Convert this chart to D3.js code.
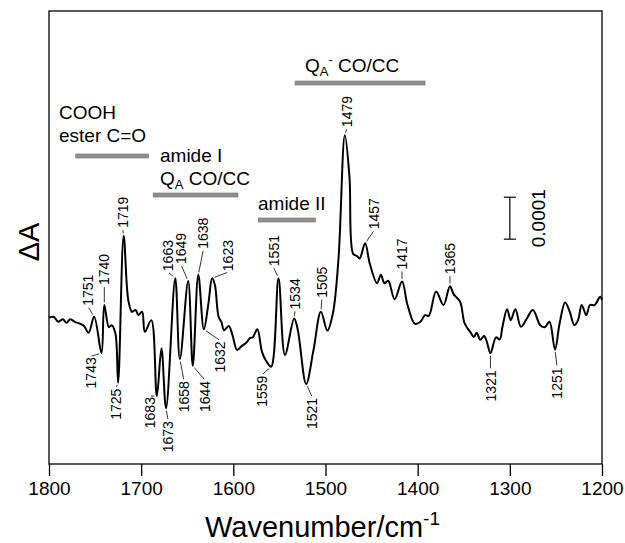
<!DOCTYPE html>
<html>
<head>
<meta charset="utf-8">
<script src="https://cdn.jsdelivr.net/npm/d3@7"></script>
<style>
  body { margin: 0; background: #fff; }
  text { font-family: "Liberation Sans", Arial, sans-serif; fill: #000; }
</style>
</head>
<body>
<script>
// spectrum (dA in units of 1e-4)
let wavenumber = [1800, 1795, 1790, 1785, 1781, 1777, 1772, 1766, 1762, 1757, 1751, 1743, 1740, 1735, 1732, 1728,
    1725, 1719, 1714, 1710, 1706, 1703, 1699, 1696, 1689, 1683, 1678, 1673, 1663, 1658, 1649, 1644, 1638, 1632,
    1627, 1623, 1620, 1616, 1613, 1610, 1605, 1601, 1596, 1591, 1586, 1582, 1579, 1574, 1569, 1565, 1559, 1551,
    1544, 1534, 1530, 1521, 1513, 1505, 1498, 1492, 1486, 1479, 1474, 1470, 1466, 1463, 1457, 1452, 1444, 1440,
    1436, 1432, 1425, 1417, 1411, 1403, 1397, 1392, 1388, 1380, 1372, 1365, 1361, 1354, 1349, 1343, 1339, 1336,
    1332, 1328, 1325, 1321, 1315, 1311, 1308, 1303, 1299, 1294, 1288, 1282, 1275, 1267, 1262, 1257, 1251, 1246,
    1240, 1235, 1230, 1226, 1222, 1217, 1213, 1208, 1202, 1200];
let dA = [-0.41, -0.39, -0.51, -0.45, -0.53, -0.45, -0.51, -0.56, -0.61, -0.77, -0.39, -1.26, -0.11, -0.64, -0.59, -0.78,
    -1.96, 1.54, 0.01, -0.27, -0.23, -0.35, -0.27, -0.75, -0.47, -2.28, -1.14, -2.57, 0.53, -1.40, 0.46, -1.56, 0.61, -0.69,
    -0.07, 0.53, 0.37, -0.39, -0.51, -0.71, -0.61, -0.82, -1.18, -1.09, -1.01, -0.90, -0.88, -0.69, -1.22, -1.42, -1.58, 0.53,
    -1.30, -0.43, -0.71, -1.99, -1.18, -0.27, -0.72, -0.31, 0.96, 3.94, 2.95, 1.11, 1.06, 1.00, 1.36, 0.88, 0.41, 0.61,
    0.41, 0.47, 0.03, 0.45, -0.11, -0.56, -0.51, -0.35, -0.37, 0.21, -0.11, 0.34, 0.15, -0.03, -0.55, -0.75, -0.87, -0.77,
    -0.94, -0.85, -0.98, -1.26, -0.88, -0.93, -0.63, -0.21, -0.47, -0.21, -0.63, -0.45, -0.23, -0.59, -0.64, -0.51, -1.17, -0.55,
    -0.05, -0.27, -0.59, -0.47, -0.11, -0.35, -0.11, -0.11, 0.09, 0.01];

// labelled peaks
let peaksUp = [1751, 1740, 1719, 1663, 1649, 1638, 1623, 1551, 1534, 1505, 1479, 1457, 1417, 1365];
let peaksDown = [1743, 1725, 1683, 1673, 1658, 1644, 1632, 1559, 1521, 1321, 1251];

// assignment bands
let bandNames = ['COOH ester', 'amide I / QA', 'amide II', 'QA-'];
let bandFrom = [1771, 1687, 1573, 1533];
let bandTo = [1692, 1595, 1511, 1392];

let xTicks = [1800, 1700, 1600, 1500, 1400, 1300, 1200];

// layout
let width = 625;
let height = 543;
let margin = { top: 11, right: 23, bottom: 79, left: 49 };
// offset of each label from its point (px)
let upOffset = [[-6, -10], [0, -19], [-1, -7], [-7, -6], [-7, -16], [5, -25], [16, -6], [-5, -11],
    [1, -8], [1, -13], [2, -7], [9, -13], [0, -11], [0, -11]];
let downOffset = [[-11, 3], [-2, 5], [-7, 0], [2, 12], [4, 21], [12, 14], [16, 11], [-9, 8], [6, 13], [0, 16], [2, 17]];
let bandY = [156, 195, 220, 83];

let svg = d3.select('body')
    .append('svg')
    .attr('width', width)
    .attr('height', height);

let x = d3.scaleLinear().domain([1800, 1200]).range([margin.left, width - margin.right]);
let y = d3.scaleLinear().domain([-3.9, 6.9]).range([height - margin.bottom, margin.top]);

let data = wavenumber.map((w, i) => ({ w: w, v: dA[i] }));
let valueAt = w => data.find(d => d.w == w).v;

// frame
svg.append('rect')
    .attr('x', x(1800)).attr('y', y(6.9))
    .attr('width', x(1200) - x(1800)).attr('height', y(-3.9) - y(6.9))
    .attr('fill', 'none').attr('stroke', '#000').attr('stroke-width', 1.3);

// x axis
let xAxis = svg.append('g')
    .attr('transform', 'translate(0,' + y(-3.9) + ')')
    .call(d3.axisBottom(x).tickValues(xTicks).tickSize(12).tickPadding(6).tickFormat(d3.format('d')));
xAxis.select('.domain').remove();
xAxis.selectAll('line').attr('stroke', '#000').attr('stroke-width', 1.3);
xAxis.selectAll('text').style('font-size', '19px').attr('font-family', '"Liberation Sans", Arial, sans-serif');

// axis titles
let xt = svg.append('text')
    .attr('x', 205).attr('y', 537)
    .style('font-size', '29px');
xt.append('tspan').text('Wavenumber/cm');
xt.append('tspan').attr('dy', -12).style('font-size', '19px').text('-1');

svg.append('text')
    .attr('transform', 'translate(39,242) rotate(-90)')
    .attr('text-anchor', 'middle')
    .style('font-size', '29px')
    .text('\u0394A');

// spectrum
let line = d3.line()
    .x(d => x(d.w))
    .y(d => y(d.v))
    .curve(d3.curveCatmullRom.alpha(0.5));

svg.append('path')
    .datum(data)
    .attr('d', line)
    .attr('fill', 'none')
    .attr('stroke', '#000')
    .attr('stroke-width', 2)
    .attr('stroke-linejoin', 'round');

// peak labels
function peakLabel(w, off, up) {
    let px = x(w), py = y(valueAt(w));
    let ax = px + off[0], ay = py + off[1];
    let dx = ax - px, dy = ay - py;
    let len = Math.sqrt(dx * dx + dy * dy);
    if (len > 4) {
        svg.append('line')
            .attr('x1', px + dx / len * 2.5).attr('y1', py + dy / len * 2.5)
            .attr('x2', ax - dx / len * 1).attr('y2', ay - dy / len * 1)
            .attr('stroke', '#000').attr('stroke-width', 0.8);
    }
    svg.append('text')
        .attr('transform', 'translate(' + ax + ',' + (up ? ay - 1 : ay + 1) + ') rotate(-90)')
        .attr('text-anchor', up ? 'start' : 'end')
        .attr('dy', '0.36em')
        .style('font-size', '14px')
        .text(w);
}
peaksUp.forEach((w, i) => peakLabel(w, upOffset[i], true));
peaksDown.forEach((w, i) => peakLabel(w, downOffset[i], false));

// band bars
svg.selectAll('.band')
    .data(bandNames)
    .enter().append('rect')
    .attr('class', 'band')
    .attr('x', (d, i) => x(bandFrom[i]))
    .attr('y', (d, i) => bandY[i] - 2)
    .attr('width', (d, i) => x(bandTo[i]) - x(bandFrom[i]))
    .attr('height', 4)
    .attr('fill', '#8f8f8f')
    .attr('stroke', '#6f6f6f')
    .attr('stroke-width', 0.6);

// band texts
function label(tx, ty, parts) {
    let t = svg.append('text').attr('x', tx).attr('y', ty).style('font-size', '19px');
    parts.forEach(p => {
        let s = t.append('tspan').text(p[0]);
        if (p[1]) s.attr('dy', p[1]);
        if (p[2]) s.style('font-size', p[2]);
    });
}
label(59, 119, [['COOH']]);
label(59, 142, [['ester C=O']]);
label(160, 162, [['amide I']]);
label(160, 185, [['Q'], ['A', 4, '13px'], [' CO/CC', -4]]);
label(258, 210, [['amide II']]);
label(305, 72, [['Q'], ['A', 4, '13px'], ['-', -12, '13px'], [' CO/CC', 8]]);

// scale bar (0.0001)
let sb = svg.append('g').attr('stroke', '#000').attr('stroke-width', 1.2);
sb.append('line').attr('x1', x(1300)).attr('x2', x(1300)).attr('y1', y(1.46)).attr('y2', y(2.46));
sb.append('line').attr('x1', x(1300) - 6).attr('x2', x(1300) + 6).attr('y1', y(1.46)).attr('y2', y(1.46));
sb.append('line').attr('x1', x(1300) - 6).attr('x2', x(1300) + 6).attr('y1', y(2.46)).attr('y2', y(2.46));
svg.append('text')
    .attr('transform', 'translate(' + (x(1300) + 28) + ',' + y(1.96) + ') rotate(-90)')
    .attr('text-anchor', 'middle')
    .attr('dy', '0.36em')
    .style('font-size', '19px')
    .text('0.0001');
</script>
</body>
</html>
